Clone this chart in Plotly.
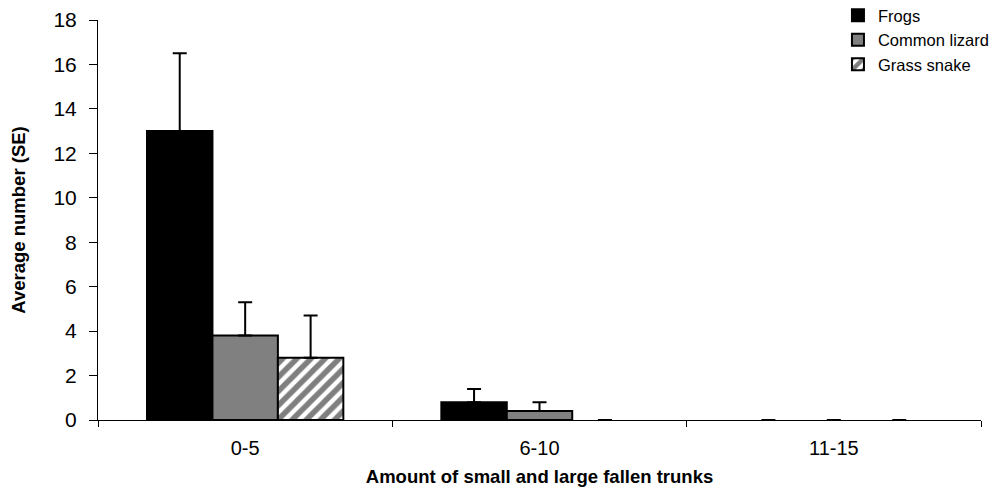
import plotly.graph_objects as go

# Categories and per-species means with standard errors
categories = ["0-5", "6-10", "11-15"]
frogs = [13.0, 0.8, 0.0]
frogs_se = [3.5, 0.6, 0.0]
lizard = [3.8, 0.4, 0.0]
lizard_se = [1.5, 0.4, 0.0]
snake = [2.8, 0.0, 0.0]
snake_se = [1.9, 0.0, 0.0]

y_ticks = [0, 2, 4, 6, 8, 10, 12, 14, 16, 18]

FONT = "Liberation Sans, Arial, sans-serif"


def err(se):
    return dict(type="data", array=se, arrayminus=[0] * len(se), symmetric=False,
                color="black", thickness=2, width=7)


def outline(values):
    # zero-height bars get no outline, only their error cap shows
    return dict(color="black", width=[2 if v > 0 else 0 for v in values])


fig = go.Figure()
fig.add_trace(go.Bar(
    name="Frogs", x=categories, y=frogs, error_y=err(frogs_se),
    marker=dict(color="black", line=outline(frogs)),
))
fig.add_trace(go.Bar(
    name="Common lizard", x=categories, y=lizard, error_y=err(lizard_se),
    marker=dict(color="#808080", line=outline(lizard)),
))
fig.add_trace(go.Bar(
    name="Grass snake", x=categories, y=snake, error_y=err(snake_se),
    marker=dict(color="white", line=outline(snake),
                pattern=dict(shape="/", fgcolor="black", bgcolor="white",
                             size=10, solidity=0.55)),
))

fig.update_layout(
    width=997, height=491,
    margin=dict(l=98, r=16, t=20, b=71, autoexpand=False),
    paper_bgcolor="white", plot_bgcolor="white",
    barmode="group", bargap=0.333, bargroupgap=0,
    font=dict(family=FONT, color="black"),
    showlegend=True,
    legend=dict(x=0.838, y=1.055, xanchor="left", yanchor="top",
                font=dict(size=16.5, family=FONT), bgcolor="rgba(0,0,0,0)",
                tracegroupgap=0, itemwidth=30),
)
fig.update_xaxes(
    showline=True, linecolor="black", linewidth=1,
    ticks="outside", ticklen=6, tickcolor="black", tickson="boundaries",
    tickfont=dict(size=20), ticklabelstandoff=10, showgrid=False,
    title=dict(text="<b>Amount of small and large fallen trunks</b>",
               font=dict(size=18.5), standoff=12),
)
fig.update_yaxes(
    range=[0, 18], tickvals=y_ticks, showline=True, linecolor="black", linewidth=1,
    ticks="outside", ticklen=8, tickcolor="black", showgrid=False, zeroline=False,
    tickfont=dict(size=21), ticklabelstandoff=8,
    title=dict(text="<b>Average number (SE)</b>", font=dict(size=18.5), standoff=22),
)

fig.write_html("out.html")
